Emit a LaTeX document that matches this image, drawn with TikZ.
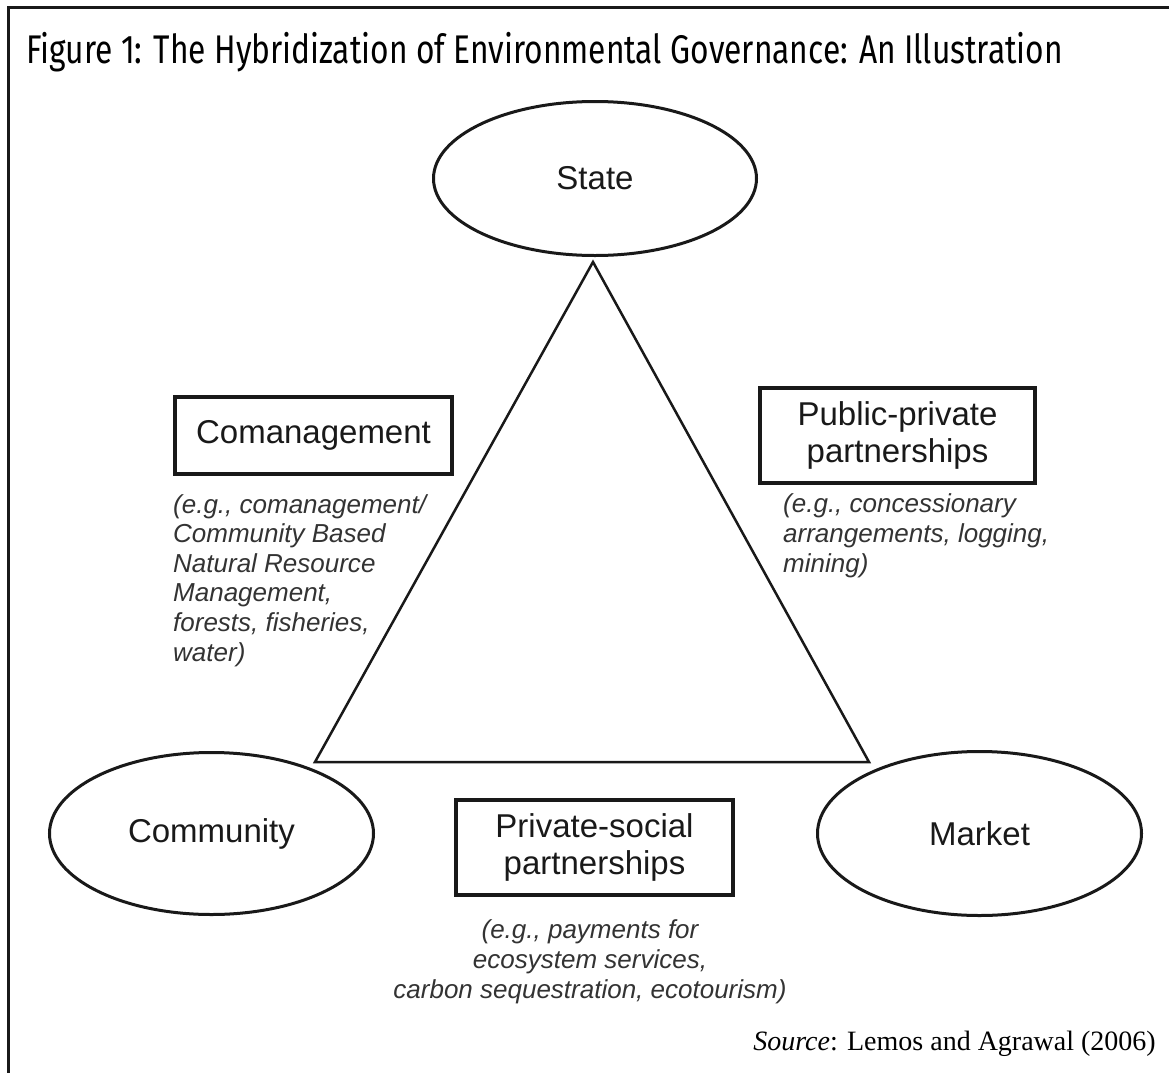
\documentclass[tikz,border=0pt]{standalone}
\usepackage{fontspec}
\setmainfont{Liberation Sans}
\newfontfamily\labelfont{Liberation Sans}
\newfontfamily\sourcefont{Liberation Serif}
\newfontfamily\titlefont[FakeStretch=0.793]{Fira Sans}
\usetikzlibrary{shapes.geometric}

\begin{document}
\begin{tikzpicture}[x=1bp, y=-1bp,
  actor/.style={ellipse, draw=black!90, line width=3bp, inner sep=0pt,
    text=black!90, font=\labelfont\fontsize{33bp}{37bp}\selectfont},
  hybrid/.style={rectangle, draw=black!90, line width=4bp, inner sep=0pt,
    align=center, text=black!90, font=\labelfont\fontsize{33bp}{37bp}\selectfont},
  example/.style={inner sep=0pt, text=black!80,
    font=\labelfont\itshape\fontsize{26bp}{29.6bp}\selectfont},
  frameline/.style={line width=3bp, draw=black!90},
  edge/.style={line width=2.5bp, draw=black!90, line join=miter},
]
\useasboundingbox (0,0) rectangle (1169,1073);

% page frame (top and left rules)
\coordinate (frameTR) at (1169,7.5);
\coordinate (frameTL) at (8,7.5);
\coordinate (frameBL) at (8,1073);
\draw[frameline] (frameTR) -- (frameTL) -- (frameBL);

% title
\node[anchor=base west, inner sep=0pt, font=\titlefont\fontsize{40bp}{44bp}\selectfont]
  (title) at (26,63) {Figure 1: The Hybridization of Environmental Governance: An Illustration};

% the three governance actors
\node[actor, minimum width=323bp, minimum height=154bp] (state) at (595,178.5) {State};
\node[actor, minimum width=324bp, minimum height=162bp] (community) at (211.5,833.5) {Community};
\node[actor, minimum width=324bp, minimum height=164bp] (market) at (979.5,833.5) {Market};

% triangle linking the actors
\coordinate (apex) at (593,262);
\coordinate (left) at (315,762);
\coordinate (right) at (869,762);
\draw[edge] (apex) -- (left) -- (right) -- cycle;

% hybrid forms
\node[hybrid, minimum width=277bp, minimum height=77bp] (comgmt) at (313.5,435.5) {Comanagement};
\node[hybrid, minimum width=275bp, minimum height=95bp] (ppp) at (897.5,435.5) {Public-private\\partnerships};
\node[hybrid, minimum width=277bp, minimum height=95bp] (psp) at (594.5,847.5) {Private-social\\partnerships};

% examples (anchored at the baseline of their last line)
\node[example, anchor=base west, align=left] (comgmtEx) at (173,661)
  {(e.g., comanagement/\\Community Based\\Natural Resource\\Management,\\forests, fisheries,\\water)};
\node[example, anchor=base west, align=left] (pppEx) at (783,572)
  {(e.g., concessionary\\arrangements, logging,\\mining)};
\node[example, anchor=base, align=center] (pspEx) at (590,998)
  {(e.g., payments for\\ecosystem services,\\carbon sequestration, ecotourism)};

% source line
\node[anchor=base east, inner sep=0pt, text=black, font=\sourcefont\fontsize{28bp}{32bp}\selectfont]
  (source) at (1156,1050) {\textit{Source}: Lemos and Agrawal (2006)};
\end{tikzpicture}
\end{document}
